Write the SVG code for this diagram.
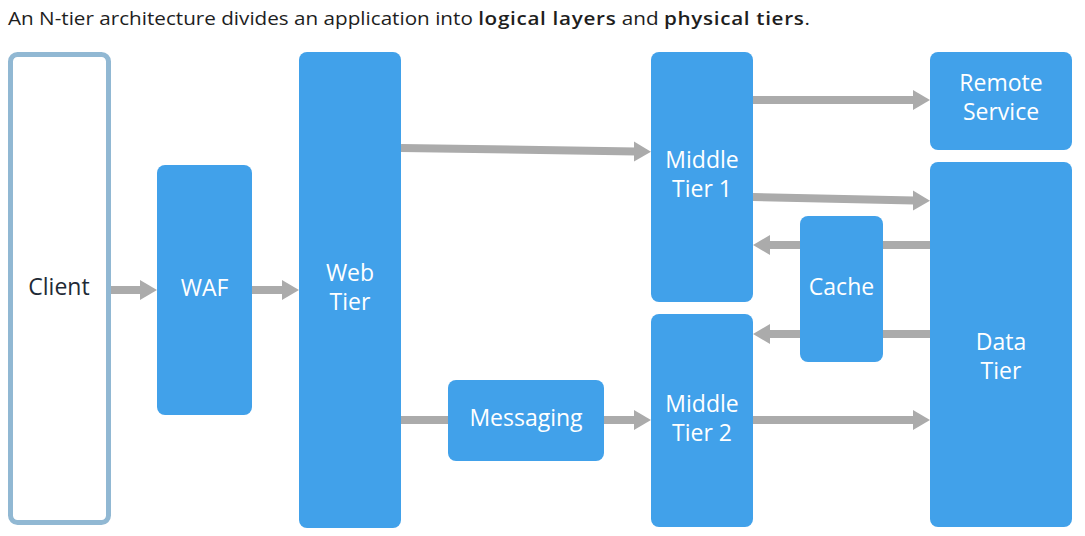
<svg xmlns="http://www.w3.org/2000/svg" width="1085" height="536" viewBox="0 0 1085 536">
<defs>
<style>
.box{fill:#41a1ea}
.lbl{font-family:"Open Sans","Noto Sans","Liberation Sans",sans-serif;font-size:23px;fill:#ffffff;text-anchor:middle}
.dark{fill:#1e2a36}
.title{font-family:"Open Sans","Noto Sans","Liberation Sans",sans-serif;font-size:18px;fill:#1e1e1e}
.b{font-weight:600;letter-spacing:0.6px}
.conn{stroke:#ababab;stroke-width:8;fill:none}
.head{fill:#ababab}
</style>
</defs>
<rect width="1085" height="536" fill="#ffffff"/>
<text class="title" x="8" y="25" textLength="802" lengthAdjust="spacingAndGlyphs">An N-tier architecture divides an application into <tspan class="b">logical layers</tspan> and <tspan class="b">physical tiers</tspan>.</text>

<g id="connectors">
<line class="conn" x1="110" y1="290" x2="141" y2="290"/><polygon class="head" points="140,280 157,290 140,300"/>
<line class="conn" x1="252" y1="290" x2="283" y2="290"/><polygon class="head" points="282,280 299,290 282,300"/>
<line class="conn" x1="401" y1="148" x2="636" y2="151.5"/><polygon class="head" points="634,141.5 651,151.8 634,161.5"/>
<line class="conn" x1="753" y1="100" x2="914" y2="100"/><polygon class="head" points="913,90 930,100 913,110"/>
<line class="conn" x1="753" y1="197" x2="914" y2="200.5"/><polygon class="head" points="913,190.5 930,200.7 913,210.5"/>
<line class="conn" x1="930" y1="245" x2="769" y2="245"/><polygon class="head" points="770,235 753,245 770,255"/>
<line class="conn" x1="930" y1="334" x2="769" y2="334"/><polygon class="head" points="770,324 753,334 770,344"/>
<line class="conn" x1="753" y1="420" x2="914" y2="420"/><polygon class="head" points="913,410 930,420 913,430"/>
<line class="conn" x1="401" y1="420" x2="448" y2="420"/>
<line class="conn" x1="604" y1="420" x2="636" y2="420"/><polygon class="head" points="634,410 651,420 634,430"/>
</g>

<g id="client"><rect x="10.5" y="54.5" width="98" height="468" rx="7" fill="#ffffff" stroke="#91b8d3" stroke-width="5"/><text class="lbl dark" x="59" y="295">Client</text></g>
<g id="waf"><rect class="box" x="157" y="165" width="95" height="250" rx="8"/><text class="lbl" x="204.5" y="296">WAF</text></g>
<g id="web-tier"><rect class="box" x="299" y="52" width="102" height="476" rx="8"/><text class="lbl" x="350" y="281">Web</text><text class="lbl" x="350" y="310">Tier</text></g>
<g id="messaging"><rect class="box" x="448" y="380" width="156" height="81" rx="8"/><text class="lbl" x="526" y="426">Messaging</text></g>
<g id="middle-tier-1"><rect class="box" x="651" y="52" width="102" height="250" rx="8"/><text class="lbl" x="702" y="168">Middle</text><text class="lbl" x="702" y="197">Tier 1</text></g>
<g id="middle-tier-2"><rect class="box" x="651" y="314" width="102" height="213" rx="8"/><text class="lbl" x="702" y="412">Middle</text><text class="lbl" x="702" y="441">Tier 2</text></g>
<g id="cache"><rect class="box" x="800" y="216" width="83" height="146" rx="8"/><text class="lbl" x="841.5" y="295">Cache</text></g>
<g id="remote-service"><rect class="box" x="930" y="52" width="142" height="98" rx="8"/><text class="lbl" x="1001" y="91">Remote</text><text class="lbl" x="1001" y="120">Service</text></g>
<g id="data-tier"><rect class="box" x="930" y="162" width="142" height="365" rx="8"/><text class="lbl" x="1001" y="350">Data</text><text class="lbl" x="1001" y="379">Tier</text></g>
</svg>
